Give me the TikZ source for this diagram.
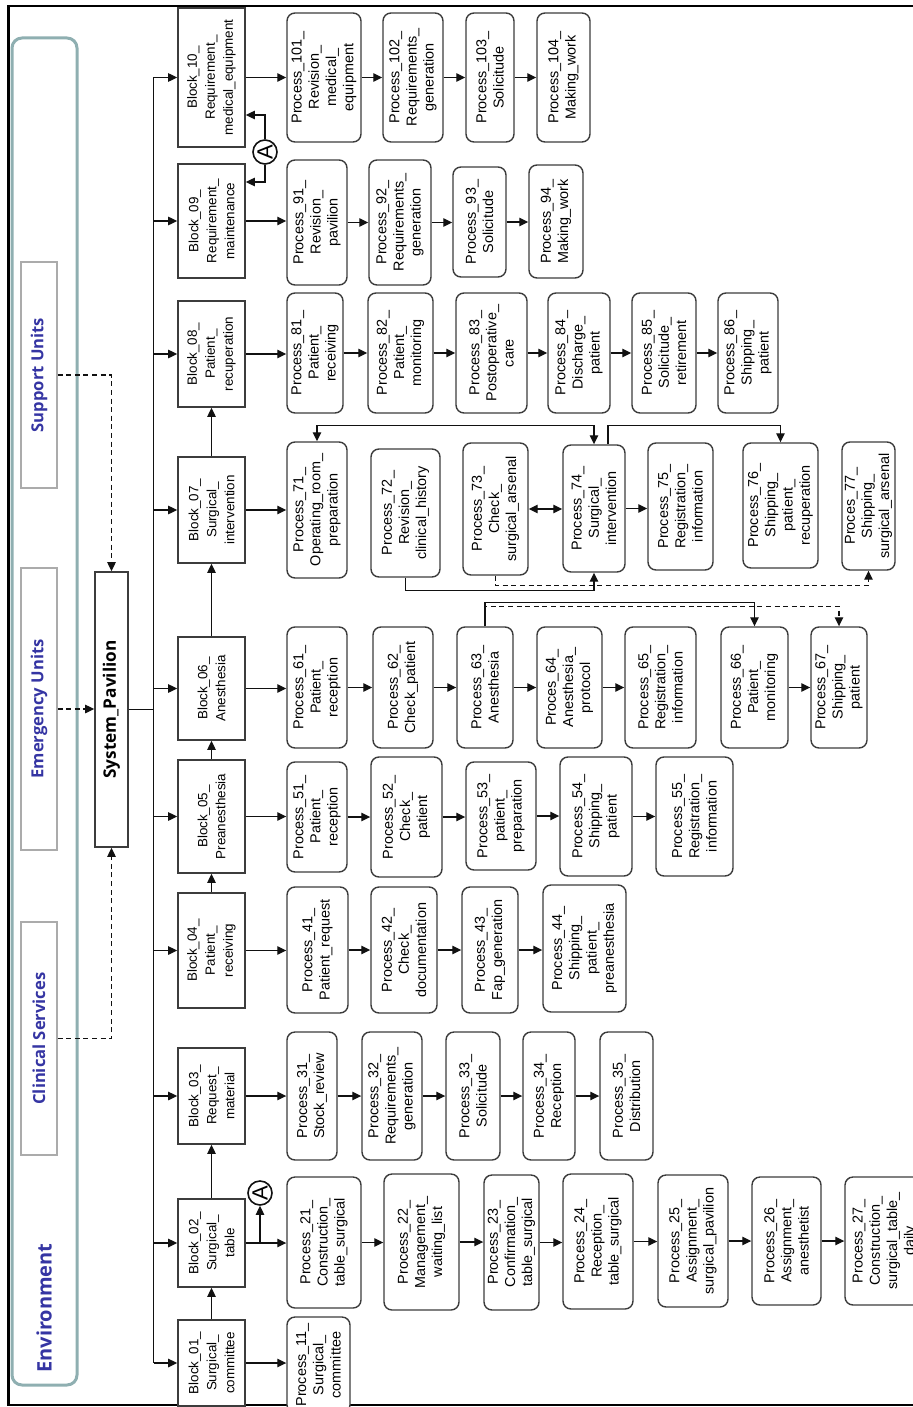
\documentclass[tikz,border=0pt]{standalone}
\usepackage{fontspec}
\setmainfont{Liberation Sans}
\newfontfamily\envfont{Open Sans}
\usetikzlibrary{arrows.meta}
\definecolor{envborder}{HTML}{8FAFB1}
\definecolor{envtext}{HTML}{3535A3}
\definecolor{tagborder}{HTML}{ABABAB}
\definecolor{boxline}{HTML}{3C3C3C}
\definecolor{darkline}{HTML}{111111}
\tikzset{
  block/.style={
    rectangle,
    rotate=90,
    draw=boxline,
    line width=0.8pt,
    fill=white,
    align=center,
    inner sep=0pt,
    minimum height=33.5pt,
    font=\fontsize{6.7}{9}\selectfont
  },
  proc/.style={rectangle, rotate=90, rounded corners=4pt, draw=boxline, line width=0.7pt, fill=white, align=center, inner sep=0pt, font=\fontsize{7.2}{8.6}\selectfont},
  tag/.style={rectangle, rotate=90, draw=tagborder, line width=0.6pt, minimum height=18pt, text=envtext, font=\envfont\bfseries\fontsize{8.3}{10}\selectfont},
  connector/.style={circle, draw=darkline, line width=0.8pt, minimum size=12pt, inner sep=0pt, font=\fontsize{11}{11}\selectfont},
  flow/.style={-{Triangle[length=4.5pt, width=4.2pt]}, line width=0.65pt, draw=darkline},
  twoway/.style={{Triangle[length=4.5pt, width=4.2pt]}-{Triangle[length=4.5pt, width=4.2pt]}, line width=0.65pt, draw=darkline},
  dflow/.style={flow, dash pattern=on 2.5pt off 1.8pt},
  link/.style={line width=0.65pt, draw=darkline}
}

\begin{document}
\begin{tikzpicture}[x=0.5pt, y=-0.5pt]
\useasboundingbox (0,0) rectangle (913,1407);

% Frame and environment panel.
\draw[line width=1.3pt] (913,6) -- (8.5,6) -- (8.5,1405) -- (913,1405);
\draw[envborder, line width=1.5pt, rounded corners=5pt] (12,38) rectangle (77,1385);
\node[rotate=90, text=envtext, font=\envfont\bfseries\fontsize{10}{12}\selectfont] (envlabel) at (44,1308) {Environment};

\node[tag, minimum width=113pt] (support) at (39,375) {Support Units};
\node[tag, minimum width=141pt] (emergency) at (39,709) {Emergency Units};
\node[tag, minimum width=116.5pt] (clinical) at (39,1038.5) {Clinical Services};

% System.
\node[block, minimum width=137.5pt, minimum height=16.5pt, font=\envfont\bfseries\fontsize{8.6}{10}\selectfont] (sys) at (111.5,709.5) {System\_Pavilion};
\coordinate (trunk) at ([xshift=12.5pt]sys.south);

% Blocks.
\node[block, minimum width=69.5pt] (b10) at (211.5,77.5) {Block\_10\_\\Requirement\_\\medical\_equipment};
\node[block, minimum width=57pt] (b09) at (211.5,221) {Block\_09\_\\Requirement\_\\maintenance};
\node[block, minimum width=53pt] (b08) at (211.5,354) {Block\_08\_\\Patient\_\\recuperation};
\node[block, minimum width=53pt] (b07) at (211.5,510) {Block\_07\_\\Surgical\_\\intervention};
\node[block, minimum width=51.5pt] (b06) at (211.5,688.5) {Block\_06\_\\Anesthesia};
\node[block, minimum width=56.5pt] (b05) at (211.5,816.5) {Block\_05\_\\Preanesthesia};
\node[block, minimum width=57.5pt] (b04) at (211.5,950.5) {Block\_04\_\\Patient\_\\receiving};
\node[block, minimum width=48pt] (b03) at (211.5,1096) {Block\_03\_\\Request\_\\material};
\node[block, minimum width=44pt] (b02) at (211.5,1243) {Block\_02\_\\Surgical\_\\table};
\node[block, minimum width=43pt] (b01) at (211.5,1363) {Block\_01\_\\Surgical\_\\committee};

% Off-page connectors.
\node[connector] (aTop) at (265,152) {\rotatebox{90}{A}};
\node[connector] (aBot) at (260,1193) {\rotatebox{90}{A}};

% Block_10 processes.
\node[proc, minimum width=64.5pt, minimum height=37pt] (p101) at (324,77.5) {Process\_101\_\\Revision\_\\medical\_\\equipment};
\node[proc, minimum width=64.5pt, minimum height=30pt] (p102) at (413,77.5) {Process\_102\_\\Requirements\_\\generation};
\node[proc, minimum width=64.5pt, minimum height=24pt] (p103) at (490,77.5) {Process\_103\_\\Solicitude};
\node[proc, minimum width=64.5pt, minimum height=26.5pt] (p104) at (563.5,77.5) {Process\_104\_\\Making\_work};

% Block_09 processes.
\node[proc, minimum width=62.5pt, minimum height=30pt] (p91) at (317,222.5) {Process\_91\_\\Revision\_\\pavilion};
\node[proc, minimum width=62.5pt, minimum height=31pt] (p92) at (400,222.5) {Process\_92\_\\Requirements\_\\generation};
\node[proc, minimum width=55pt, minimum height=26.5pt] (p93) at (479.5,222) {Process\_93\_\\Solicitude};
\node[proc, minimum width=56.5pt, minimum height=27pt] (p94) at (556,221.5) {Process\_94\_\\Making\_work};

% Block_08 processes.
\node[proc, minimum width=60pt, minimum height=28pt] (p81) at (315,353) {Process\_81\_\\Patient\_\\receiving};
\node[proc, minimum width=60pt, minimum height=32.5pt] (p82) at (400.5,353) {Process\_82\_\\Patient\_\\monitoring};
\node[proc, minimum width=60pt, minimum height=35.5pt] (p83) at (491.5,353) {Process\_83\_\\Postoperative\_\\care};
\node[proc, minimum width=60pt, minimum height=31pt] (p84) at (579,353) {Process\_84\_\\Discharge\_\\patient};
\node[proc, minimum width=60pt, minimum height=32pt] (p85) at (664,353) {Process\_85\_\\Solicitude\_\\retirement};
\node[proc, minimum width=60pt, minimum height=30pt] (p86) at (748,353) {Process\_86\_\\Shipping\_\\patient};

% Block_07 processes.
\node[proc, minimum width=68pt, minimum height=30pt] (p71) at (317,510) {Process\_71\_\\Operating\_room\_\\preparation};
\node[proc, minimum width=64pt, minimum height=34.5pt] (p72) at (405.5,513) {Process\_72\_\\Revision\_\\clinical\_history};
\node[proc, minimum width=66pt, minimum height=32.5pt] (p73) at (495.5,509) {Process\_73\_\\Check\_\\surgical\_arsenal};
\node[proc, minimum width=63.5pt, minimum height=31pt] (p74) at (594,508.5) {Process\_74\_\\Surgical\_\\intervention};
\node[proc, minimum width=63.5pt, minimum height=32.5pt] (p75) at (680.5,506.5) {Process\_75\_\\Registration\_\\information};
\node[proc, minimum width=62.5pt, minimum height=37.5pt] (p76) at (780.5,505.5) {Process\_76\_\\Shipping\_\\patient\_\\recuperation};
\node[proc, minimum width=64pt, minimum height=26.5pt] (p77) at (868.5,506) {Proces\_77\_\\Shipping\_\\surgical\_arsenal};

% Block_06 processes.
\node[proc, minimum width=60.5pt, minimum height=30pt] (p61) at (317,687.5) {Process\_61\_\\Patient\_\\reception};
\node[proc, minimum width=60.5pt, minimum height=30pt] (p62) at (403,687.5) {Process\_62\_\\Check\_patient};
\node[proc, minimum width=60.5pt, minimum height=28pt] (p63) at (485,687.5) {Process\_63\_\\Anesthesia};
\node[proc, minimum width=60.5pt, minimum height=32.5pt] (p64) at (569.5,687.5) {Proces\_64\_\\Anesthesia\_\\protocol};
\node[proc, minimum width=60.5pt, minimum height=35.5pt] (p65) at (660.5,687.5) {Process\_65\_\\Registration\_\\information};
\node[proc, minimum width=60.5pt, minimum height=33.5pt] (p66) at (754.5,687.5) {Process\_66\_\\Patient\_\\monitoring};
\node[proc, minimum width=60.5pt, minimum height=28pt] (p67) at (839,687.5) {Process\_67\_\\Shipping\_\\patient};

% Block_05 processes.
\node[proc, minimum width=55pt, minimum height=30pt] (p51) at (317,817) {Process\_51\_\\Patient\_\\reception};
\node[proc, minimum width=60pt, minimum height=35.5pt] (p52) at (406.5,817) {Process\_52\_\\Check\_\\patient};
\node[proc, minimum width=54pt, minimum height=35pt] (p53) at (501,816) {Process\_53\_\\patient\_\\preparation};
\node[proc, minimum width=59.5pt, minimum height=36pt] (p54) at (596,816.5) {Process\_54\_\\Shipping\_\\patient};
\node[proc, minimum width=59.5pt, minimum height=38.5pt] (p55) at (694.5,816.5) {Process\_55\_\\Registration\_\\information};

% Block_04 processes.
\node[proc, minimum width=63pt, minimum height=30.5pt] (p41) at (317.5,950) {Process\_41\_\\Patient\_request};
\node[proc, minimum width=63pt, minimum height=33pt] (p42) at (404,950) {Process\_42\_\\Check\_\\documentation};
\node[proc, minimum width=63pt, minimum height=28pt] (p43) at (490,950) {Process\_43\_\\Fap\_generation};
\node[proc, minimum width=63.5pt, minimum height=41.5pt] (p44) at (584.5,948.5) {Process\_44\_\\Shipping\_\\patient\_\\preanesthesia};

% Block_03 processes.
\node[proc, minimum width=64pt, minimum height=25pt] (p31) at (312,1096) {Process\_31\_\\Stock\_review};
\node[proc, minimum width=64pt, minimum height=30pt] (p32) at (392,1096) {Process\_32\_\\Requirements\_\\generation};
\node[proc, minimum width=64pt, minimum height=27pt] (p33) at (473,1096) {Process\_33\_\\Solicitude};
\node[proc, minimum width=64pt, minimum height=26pt] (p34) at (549,1096) {Process\_34\_\\Reception};
\node[proc, minimum width=64pt, minimum height=26.5pt] (p35) at (626.5,1096) {Process\_35\_\\Distribution};

% Block_02 processes.
\node[proc, minimum width=65.5pt, minimum height=37pt] (p21) at (324,1242.5) {Process\_21\_\\Construction\_\\table\_surgical};
\node[proc, minimum width=68pt, minimum height=37.5pt] (p22) at (421.5,1242) {Process\_22\_\\Management\_\\waiting\_list};
\node[proc, minimum width=67.5pt, minimum height=27.5pt] (p23) at (511.5,1242.5) {Process\_23\_\\Confirmation\_\\table\_surgical};
\node[proc, minimum width=67.5pt, minimum height=35pt] (p24) at (598,1241.5) {Process\_24\_\\Reception\_\\table\_surgical};
\node[proc, minimum width=66pt, minimum height=35pt] (p25) at (693,1241) {Process\_25\_\\Assignment\_\\surgical\_pavilion};
\node[proc, minimum width=64pt, minimum height=34.5pt] (p26) at (786.5,1241) {Process\_26\_\\Assignment\_\\anesthetist};
\node[proc, minimum width=64pt, minimum height=40pt] (p27) at (885,1241) {Process\_27\_\\Construction\_\\surgical\_table\_\\daily};

% Block_01 processes.
\node[proc, minimum width=48pt, minimum height=31.5pt] (p11) at (318.5,1365) {Process\_11\_\\Surgical\_\\committee};

% Environment to system.
\draw[dflow] (support.south) -| (sys.east);
\draw[dflow] (emergency.south) -- (emergency.south -| sys.north);
\draw[dflow] (clinical.south) -| (sys.west);

% Trunk to blocks.
\draw[link] (sys.south) -- (trunk);
\draw[link] (trunk |- b10) -- (trunk |- b01);
\foreach \b in {b01,b02,b03,b04,b05,b06,b07,b08,b09,b10} {
  \draw[flow] (trunk |- \b) -- (\b.north);
}

% Block chain.
\foreach \a/\b in {b01/b02, b02/b03, b04/b05, b05/b06, b06/b07, b07/b08} {
  \draw[flow] (\a.east) -- (\b.west);
}

% Process rows.
\foreach \a/\b in {b10/p101, p101/p102, p102/p103, p103/p104,
                   b09/p91, p91/p92, p92/p93, p93/p94,
                   b08/p81, p81/p82, p82/p83, p83/p84, p84/p85, p85/p86,
                   b07/p71, p74/p75,
                   b06/p61, p61/p62, p62/p63, p63/p64, p64/p65, p66/p67,
                   b05/p51, p51/p52, p52/p53, p53/p54, p54/p55,
                   b04/p41, p41/p42, p42/p43, p43/p44,
                   b03/p31, p31/p32, p32/p33, p33/p34, p34/p35,
                   b02/p21, p21/p22, p22/p23, p23/p24, p24/p25, p25/p26, p26/p27,
                   b01/p11} {
  \draw[flow] (\a.south) -- (\a.south -| \b.north);
}

% Connector A.
\draw[flow] (b02.south) -| (aBot);
\draw[flow] (aTop) |- ([yshift=-18.75pt]b10.south);
\draw[flow] (aTop) |- ([yshift=19.5pt]b09.south);

% Surgical intervention links.
\draw[twoway] (p73.south) -- (p73.south -| p74.north);
\draw[twoway] (p71.east) -- ++(0,-16) -| (p74.east);
\draw[flow] ([xshift=7pt]p74.east) -- ++(0,-19) -| (p76.east);
\draw[flow] (p72.west) -- ++(0,13) -| (p74.west);
\draw[dflow] (p73.west) -- ++(0,10) -| (p77.west);

% Anesthesia links.
\draw[flow] (p63.east) -- ++(0,-24) -| (p66.east);
\draw[dflow] (p63.east) -- ++(0,-20) -| (p67.east);

\end{tikzpicture}
\end{document}
